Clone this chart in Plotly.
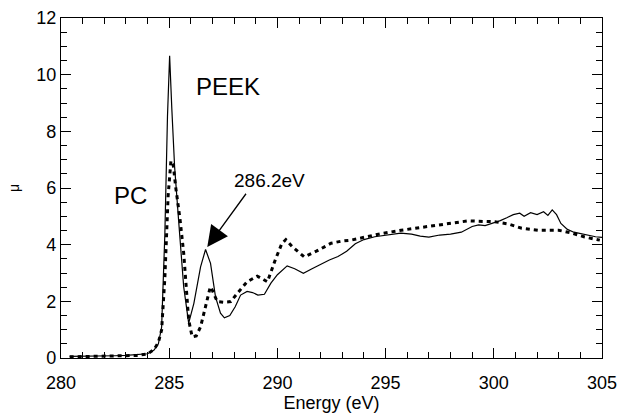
import plotly.graph_objects as go

# PEEK (solid line)
peek_energy = [280.4, 281.0, 281.5, 282.0, 282.5, 283.0, 283.5, 284.0, 284.3, 284.5,
               284.65, 284.8, 284.92, 285.02, 285.12, 285.25, 285.44, 285.67, 285.9, 286.14,
               286.45, 286.68, 286.91, 287.14, 287.37, 287.55, 287.8, 288.05, 288.3, 288.6,
               288.85, 289.1, 289.4, 289.7, 290.0, 290.45, 290.8, 291.2, 291.6, 292.0,
               292.4, 292.8, 293.2, 293.6, 294.0, 294.5, 295.0, 295.7, 296.2, 296.6,
               297.0, 297.5, 298.0, 298.5, 299.0, 299.3, 299.6, 300.0, 300.3, 300.6,
               300.9, 301.2, 301.4, 301.7, 302.0, 302.3, 302.5, 302.7, 302.9, 303.1,
               303.4, 303.7, 304.0, 304.4, 304.7, 305.0]
peek_mu = [0.06, 0.06, 0.07, 0.07, 0.08, 0.09, 0.11, 0.15, 0.28, 0.5,
           1.09, 4.39, 8.51, 10.67, 8.81, 6.75, 4.80, 2.51, 1.23, 1.93,
           3.22, 3.83, 3.34, 2.16, 1.58, 1.42, 1.50, 1.81, 2.22, 2.35,
           2.31, 2.22, 2.25, 2.64, 2.94, 3.25, 3.15, 2.99, 3.15, 3.31,
           3.46, 3.58, 3.77, 4.03, 4.18, 4.28, 4.34, 4.41, 4.37, 4.30,
           4.27, 4.34, 4.37, 4.44, 4.64, 4.70, 4.67, 4.76, 4.85, 4.95,
           5.06, 5.11, 5.00, 5.13, 5.06, 5.16, 5.03, 5.23, 5.06, 4.75,
           4.54, 4.44, 4.39, 4.34, 4.28, 4.26]

# PC (dashed line)
pc_energy = [280.4, 281.0, 281.5, 282.0, 282.5, 283.0, 283.5, 284.0, 284.3, 284.5,
             284.65, 284.8, 284.95, 285.08, 285.18, 285.3, 285.5, 285.67, 285.9, 286.06,
             286.25, 286.45, 286.76, 286.9, 287.0, 287.22, 287.5, 287.84, 288.2, 288.6,
             289.07, 289.54, 289.9, 290.2, 290.39, 290.7, 291.24, 291.8, 292.48, 293.0,
             293.4, 294.0, 294.8, 295.72, 296.5, 297.27, 298.0, 298.82, 299.5, 300.05,
             300.67, 301.29, 302.06, 303.0, 303.6, 304.2, 304.9]
pc_mu = [0.04, 0.05, 0.05, 0.06, 0.06, 0.07, 0.09, 0.14, 0.3, 0.55,
         0.99, 2.84, 5.72, 6.96, 6.86, 6.03, 4.90, 3.70, 1.34, 0.75,
         0.78, 1.10, 2.05, 2.51, 2.38, 1.99, 1.97, 1.99, 2.33, 2.69,
         2.89, 2.69, 3.46, 4.03, 4.18, 3.92, 3.57, 3.77, 4.05, 4.13,
         4.16, 4.27, 4.39, 4.51, 4.59, 4.68, 4.75, 4.84, 4.82, 4.81,
         4.73, 4.58, 4.51, 4.51, 4.41, 4.27, 4.16]

x_ticks = [280, 285, 290, 295, 300, 305]
y_ticks = [0, 2, 4, 6, 8, 10, 12]

FONT = "Liberation Sans, Arial, Helvetica, sans-serif"

fig = go.Figure()
fig.add_trace(go.Scatter(x=peek_energy, y=peek_mu, mode="lines",
                         line=dict(color="black", width=1.2), showlegend=False))
fig.add_trace(go.Scatter(x=pc_energy, y=pc_mu, mode="lines",
                         line=dict(color="black", width=3, dash="4px,4px"), showlegend=False))

axis_common = dict(showline=True, linecolor="black", linewidth=1.3, mirror="ticks",
                   ticks="inside", ticklen=10, tickwidth=1.3, tickcolor="black",
                   showgrid=False, zeroline=False, ticklabeloverflow="allow",
                   automargin=False,
                   tickfont=dict(family=FONT, size=18, color="black"))

fig.update_xaxes(range=[280, 305], tickvals=x_ticks, ticklabelstandoff=8,
                 minor=dict(dtick=1, ticks="inside", ticklen=6, tickwidth=1.2, tickcolor="black"),
                 title=dict(text="Energy (eV)", font=dict(family=FONT, size=18, color="black"), standoff=4),
                 **axis_common)
fig.update_yaxes(range=[0, 12], tickvals=y_ticks,
                 minor=dict(dtick=0.5, ticks="inside", ticklen=6, tickwidth=1.2, tickcolor="black"),
                 title=dict(text="μ", font=dict(family=FONT, size=14, color="black"), standoff=13),
                 **axis_common)

fig.add_annotation(x=286.76, y=3.92, ax=288.6, ay=5.85, axref="x", ayref="y",
                   text="", showarrow=True, arrowhead=2, arrowsize=3.2, arrowwidth=1.3,
                   arrowcolor="black")
fig.add_annotation(x=289.65, y=6.28, text="286.2eV", showarrow=False,
                   font=dict(family=FONT, size=19, color="black"))
fig.add_annotation(x=287.7, y=9.6, text="PEEK", showarrow=False,
                   font=dict(family=FONT, size=24, color="black"))
fig.add_annotation(x=283.2, y=5.73, text="PC", showarrow=False,
                   font=dict(family=FONT, size=24, color="black"))

fig.update_layout(width=617, height=413, margin=dict(l=61, r=15, t=18, b=55, autoexpand=False),
                  plot_bgcolor="white", paper_bgcolor="white",
                  font=dict(family=FONT, color="black"))

# remove the default 8px page margin so the figure fills the 617x413 window
fig.write_html("out.html", config={"displayModeBar": False},
               post_script="document.body.style.margin='0px';")
